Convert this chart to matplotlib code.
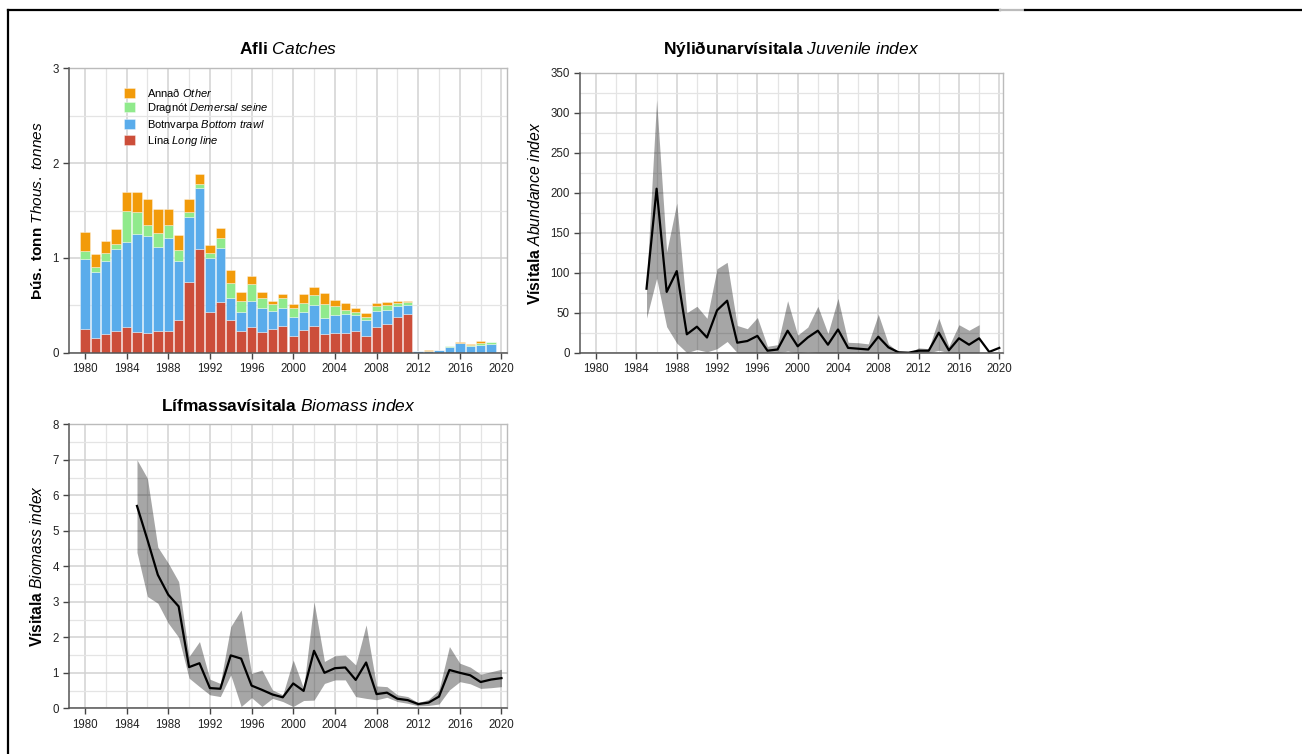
import numpy as np
import matplotlib
matplotlib.use('Agg')
import matplotlib.pyplot as plt
from matplotlib.lines import Line2D
from matplotlib.ticker import MultipleLocator

plt.rcParams['font.family'] = ['Liberation Sans', 'DejaVu Sans']
plt.rcParams['mathtext.fontset'] = 'custom'
plt.rcParams['mathtext.rm'] = 'Liberation Sans'
plt.rcParams['mathtext.it'] = 'Liberation Sans:italic'
plt.rcParams['mathtext.bf'] = 'Liberation Sans:bold'

# catches by gear (thous. tonnes)
catch_years = np.arange(1980, 2020)
line_c = [0.25, 0.15, 0.20, 0.23, 0.27, 0.22, 0.21, 0.23, 0.23, 0.35,
          0.75, 1.09, 0.43, 0.54, 0.35, 0.23, 0.27, 0.22, 0.25, 0.28,
          0.18, 0.24, 0.28, 0.20, 0.21, 0.21, 0.23, 0.18, 0.27, 0.30,
          0.38, 0.41, 0.0, 0.0, 0.0, 0.0, 0.0, 0.0, 0.0, 0.0]
trawl_c = [0.74, 0.70, 0.77, 0.86, 0.90, 1.03, 1.02, 0.89, 0.98, 0.62,
           0.68, 0.65, 0.57, 0.56, 0.23, 0.20, 0.28, 0.25, 0.19, 0.19,
           0.20, 0.19, 0.22, 0.17, 0.19, 0.20, 0.17, 0.16, 0.17, 0.15,
           0.11, 0.09, 0.02, 0.022, 0.028, 0.06, 0.10, 0.067, 0.085, 0.092]
seine_c = [0.08, 0.05, 0.08, 0.06, 0.32, 0.23, 0.12, 0.14, 0.14, 0.11,
           0.05, 0.04, 0.05, 0.11, 0.15, 0.12, 0.17, 0.11, 0.07, 0.11,
           0.09, 0.09, 0.11, 0.14, 0.09, 0.04, 0.03, 0.04, 0.05, 0.05,
           0.03, 0.03, 0.0, 0.0, 0.0, 0.01, 0.003, 0.018, 0.015, 0.018]
other_c = [0.20, 0.14, 0.13, 0.15, 0.21, 0.21, 0.27, 0.26, 0.17, 0.16,
           0.14, 0.11, 0.09, 0.11, 0.14, 0.09, 0.09, 0.06, 0.04, 0.04,
           0.04, 0.10, 0.08, 0.12, 0.07, 0.07, 0.04, 0.04, 0.03, 0.04,
           0.03, 0.02, 0.003, 0.006, 0.002, 0.003, 0.006, 0.01, 0.027, 0.007]
gear_labels = [r'Lína $\mathit{Long\ line}$', r'Botnvarpa $\mathit{Bottom\ trawl}$',
               r'Dragnót $\mathit{Demersal\ seine}$', r'Annað $\mathit{Other}$']
gear_colors = ['#cc4e3a', '#5aaceb', '#90ea8c', '#f29b0a']

# survey indices
idx_years = np.arange(1985, 2021)
juv = [80, 205, 76, 102, 23, 32.5, 19, 53, 65, 12.5, 14.6, 21, 2.5, 4, 27.5, 8,
       19, 27.5, 10, 29, 6, 5, 4, 20, 6.7, 0.5, 0, 2.5, 2.5, 25, 3, 18, 10, 18, 1, 6]
juv_lo = [43, 93, 32.5, 12, 0, 4, 1, 5, 14, 0, 0, 0, 0, 0, 2, 0,
          1, 0, 0, 0, 0, 0, 0, 0, 0, 0, 0, 0, 0, 3, 0, 0, 0, 0, np.nan, np.nan]
juv_hi = [85, 316, 126, 187, 50, 58, 43, 105, 113, 34, 30, 44, 8, 10, 65, 22,
          32, 58, 24, 68, 13, 12.5, 11, 48, 11, 1, 0, 6, 5, 43, 8, 35, 28, 35, np.nan, np.nan]

bio = [5.70, 4.75, 3.76, 3.2, 2.87, 1.16, 1.27, 0.57, 0.55, 1.49, 1.40, 0.64,
       0.52, 0.39, 0.31, 0.70, 0.49, 1.62, 1.0, 1.13, 1.15, 0.80, 1.29, 0.40,
       0.44, 0.27, 0.23, 0.12, 0.16, 0.33, 1.08, 1.0, 0.93, 0.74, 0.81, 0.85]
bio_lo = [4.39, 3.15, 2.96, 2.4, 2.0, 0.85, 0.61, 0.38, 0.33, 0.94, 0.05, 0.3,
          0.05, 0.28, 0.19, 0.05, 0.22, 0.23, 0.7, 0.8, 0.8, 0.33, 0.28, 0.24,
          0.31, 0.19, 0.14, 0.07, 0.08, 0.12, 0.52, 0.75, 0.69, 0.56, 0.58, 0.61]
bio_hi = [7.0, 6.48, 4.54, 4.09, 3.57, 1.46, 1.88, 0.82, 0.7, 2.3, 2.77, 0.98,
          1.08, 0.52, 0.38, 1.36, 0.56, 3.0, 1.32, 1.48, 1.5, 1.22, 2.35, 0.63,
          0.61, 0.38, 0.33, 0.16, 0.25, 0.52, 1.74, 1.27, 1.16, 0.96, 1.03, 1.1]

W, H = 1302, 754
fig = plt.figure(figsize=(W / 100, H / 100), dpi=100)


def px_axes(x0, y0, x1, y1):
    return fig.add_axes([x0 / W, 1 - y1 / H, (x1 - x0) / W, (y1 - y0) / H])


def style(ax, ystep, yminor):
    ax.set_xticks(np.arange(1980, 2021, 4))
    ax.xaxis.set_minor_locator(MultipleLocator(2))
    ax.yaxis.set_major_locator(MultipleLocator(ystep))
    ax.yaxis.set_minor_locator(MultipleLocator(yminor))
    ax.grid(True, which='major', color='#d2d2d2', lw=1.1)
    ax.grid(True, which='minor', color='#e4e4e4', lw=0.9)
    ax.set_axisbelow(True)
    ax.tick_params(which='minor', length=0)
    ax.tick_params(which='major', length=4.5, width=1, color='#444444',
                   labelsize=8.3, labelcolor='#222222', pad=3)
    for s in ['left', 'bottom']:
        ax.spines[s].set_color('#555555')
        ax.spines[s].set_linewidth(1.1)
        ax.spines[s].set_zorder(5)
    for s in ['top', 'right']:
        ax.spines[s].set_color('#bbbbbb')
        ax.spines[s].set_linewidth(1.0)


# Catches
ax = px_axes(69.3, 68.3, 506.7, 352.7)
bottom = np.zeros(len(catch_years))
bars = []
for vals, col, lab in zip([line_c, trawl_c, seine_c, other_c], gear_colors, gear_labels):
    b = ax.bar(catch_years, vals, bottom=bottom, width=0.9, color=col,
               edgecolor=(1, 1, 1, 0.5), linewidth=0.5, label=lab)
    bars.append(b)
    bottom = bottom + np.array(vals)
ax.set_xlim(1978.5, 2020.5)
ax.set_ylim(0, 3)
style(ax, 1, 0.5)
ax.set_title(r'$\mathbf{Afli}$ $\mathit{Catches}$', fontsize=12.5, pad=10.5)
ax.set_ylabel(r'$\mathbf{Þús.\ tonn}$ $\mathit{Thous.\ tonnes}$', fontsize=11.1)
ax.yaxis.set_label_coords(-0.056, 0.5)
ax.legend(bars[::-1], gear_labels[::-1], loc='upper left', bbox_to_anchor=(0.115, 0.955),
          frameon=False, fontsize=8, handlelength=1.0, handleheight=1.0,
          labelspacing=0.23, handletextpad=1.1, borderaxespad=0)

# Juvenile index
ax = px_axes(580, 72.7, 1003.3, 352.7)
ax.fill_between(idx_years, juv_lo, juv_hi, color='black', alpha=0.35, lw=0)
ax.plot(idx_years, juv, color='black', lw=1.6)
ax.set_xlim(1978.4, 2020.4)
ax.set_ylim(0, 350)
style(ax, 50, 25)
ax.set_title(r'$\mathbf{Nýliðunarvísitala}$ $\mathit{Juvenile\ index}$', fontsize=12.5, pad=13.2)
ax.set_ylabel(r'$\mathbf{Vísitala}$ $\mathit{Abundance\ index}$', fontsize=11.3)
ax.yaxis.set_label_coords(-0.087, 0.5)

# Biomass index
ax = px_axes(69.3, 424.3, 506.7, 708.3)
ax.fill_between(idx_years, bio_lo, bio_hi, color='black', alpha=0.35, lw=0)
ax.plot(idx_years, bio, color='black', lw=1.6)
ax.set_xlim(1978.5, 2020.5)
ax.set_ylim(0, 8)
style(ax, 1, 0.5)
ax.set_title(r'$\mathbf{Lífmassavísitala}$ $\mathit{Biomass\ index}$', fontsize=12.5, pad=9.8)
ax.set_ylabel(r'$\mathbf{Vísitala}$ $\mathit{Biomass\ index}$', fontsize=11.2)
ax.yaxis.set_label_coords(-0.056, 0.5)

# page frame lines
ytop = 1 - 10 / H
xl = 8 / W
fig.add_artist(Line2D([xl, 1000 / W], [ytop, ytop], color='black', lw=1.6, transform=fig.transFigure))
fig.add_artist(Line2D([1000 / W, 1025 / W], [ytop, ytop], color='#bbbbbb', lw=1.6, transform=fig.transFigure))
fig.add_artist(Line2D([1025 / W, 1], [ytop, ytop], color='black', lw=1.6, transform=fig.transFigure))
fig.add_artist(Line2D([xl, xl], [0, ytop], color='black', lw=1.6, transform=fig.transFigure))

fig.savefig('out.png', dpi=100)
